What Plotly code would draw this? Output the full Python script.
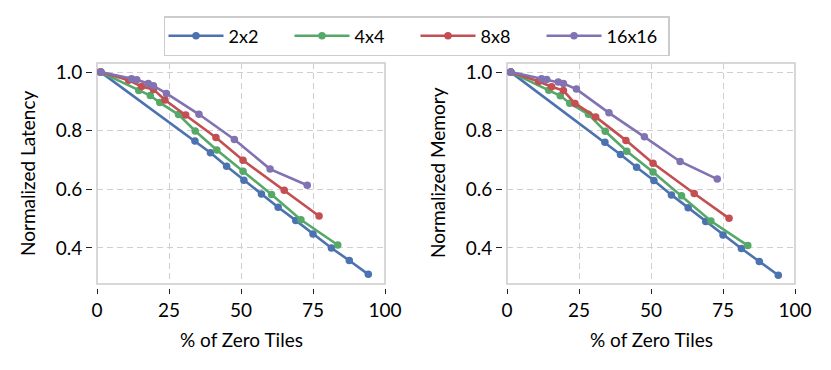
import plotly.graph_objects as go

# % of zero tiles for each tile size (shared by both panels)
x_2x2 = [1.3, 34.0, 39.4, 45.0, 51.0, 57.1, 62.9, 69.0, 75.0, 81.4, 87.6, 94.2]
x_4x4 = [1.3, 14.5, 18.5, 21.8, 28.3, 34.1, 41.6, 50.7, 60.6, 70.8, 83.6]
x_8x8 = [1.3, 11.0, 15.5, 19.6, 23.6, 30.8, 41.3, 50.7, 65.0, 77.1]
x_16x16 = [1.3, 12.0, 13.8, 17.8, 19.6, 24.1, 35.4, 47.7, 60.1, 73.0]

# normalized latency
lat_2x2 = [1.0, 0.765, 0.725, 0.679, 0.631, 0.584, 0.539, 0.494, 0.448, 0.400, 0.357, 0.310]
lat_4x4 = [1.0, 0.937, 0.920, 0.896, 0.855, 0.799, 0.734, 0.662, 0.582, 0.496, 0.410]
lat_8x8 = [1.0, 0.972, 0.951, 0.941, 0.905, 0.854, 0.777, 0.699, 0.597, 0.509]
lat_16x16 = [1.0, 0.977, 0.974, 0.961, 0.953, 0.927, 0.856, 0.770, 0.669, 0.614]

# normalized memory
mem_2x2 = [1.0, 0.761, 0.719, 0.675, 0.630, 0.581, 0.537, 0.490, 0.444, 0.398, 0.354, 0.307]
mem_4x4 = [1.0, 0.938, 0.919, 0.894, 0.856, 0.798, 0.730, 0.659, 0.578, 0.492, 0.408]
mem_8x8 = [1.0, 0.968, 0.950, 0.937, 0.893, 0.847, 0.767, 0.689, 0.586, 0.501]
mem_16x16 = [1.0, 0.977, 0.975, 0.966, 0.961, 0.942, 0.861, 0.779, 0.695, 0.635]

labels = ['2x2', '4x4', '8x8', '16x16']
colors = ['#4C72B0', '#55A868', '#C44E52', '#8172B2']
xs = [x_2x2, x_4x4, x_8x8, x_16x16]
lats = [lat_2x2, lat_4x4, lat_8x8, lat_16x16]
mems = [mem_2x2, mem_4x4, mem_8x8, mem_16x16]

# the page body has an 8px margin, so the figure is drawn 8px smaller
# and all layout positions below are page pixels minus that offset
OFF = 8
W, H = 831 - OFF, 370 - OFF
FONT = 'Lato'
TXT = '#000000'

fig = go.Figure()
for name, color, x, lat, mem in zip(labels, colors, xs, lats, mems):
    fig.add_trace(go.Scatter(
        x=x, y=lat, name=name, mode='lines+markers',
        line=dict(color=color, width=2.6),
        marker=dict(color=color, size=7.5),
        xaxis='x', yaxis='y', legendgroup=name))
    fig.add_trace(go.Scatter(
        x=x, y=mem, name=name, mode='lines+markers',
        line=dict(color=color, width=2.6),
        marker=dict(color=color, size=7.5),
        xaxis='x2', yaxis='y2', legendgroup=name, showlegend=False))

# plot area in page pixels; ticks sit a few px off the frame
pl, pr, pt, pb = 92, 795, 63, 288
ml, mt = pl - OFF, pt - OFF
mr, mb = W - (pr - OFF), H - (pb - OFF)
pw = pr - pl
ph = pb - pt


def px_x(p):
    return (p - pl) / pw


def px_y(p):
    return (pb - p) / ph


left_dom = [px_x(97), px_x(385)]
right_dom = [px_x(507), px_x(795)]
y_dom = [px_y(284), 1]

common_x = dict(
    range=[0, 100], tickvals=[0, 25, 50, 75, 100],
    showgrid=True, gridcolor='#cfcfcf', griddash='6px,4px', gridwidth=1.2,
    showline=False, zeroline=False, automargin=False,
    ticks='outside', ticklen=5, tickwidth=1.4, tickcolor='#222222',
    tickfont=dict(size=19, color=TXT),
    anchor='free', position=0,
)
common_y = dict(
    range=[0.277, 1.031], tickvals=[0.4, 0.6, 0.8, 1.0], tickformat='.1f',
    showgrid=True, gridcolor='#cfcfcf', griddash='6px,4px', gridwidth=1.2,
    showline=False, zeroline=False, automargin=False,
    ticks='outside', ticklen=6, tickwidth=1.4, tickcolor='#222222',
    tickfont=dict(size=19, color=TXT),
    domain=y_dom, anchor='free',
)

title_font = dict(family=FONT, size=19, color=TXT)
annotations = [
    dict(text='% of Zero Tiles', x=px_x(241), y=px_y(339), xref='paper', yref='paper',
         showarrow=False, xanchor='center', yanchor='middle', font=title_font),
    dict(text='% of Zero Tiles', x=px_x(651), y=px_y(339), xref='paper', yref='paper',
         showarrow=False, xanchor='center', yanchor='middle', font=title_font),
    dict(text='Normalized Latency', x=px_x(27), y=px_y(173), xref='paper', yref='paper',
         showarrow=False, xanchor='center', yanchor='middle', textangle=-90, font=title_font),
    dict(text='Normalized Memory', x=px_x(437), y=px_y(173), xref='paper', yref='paper',
         showarrow=False, xanchor='center', yanchor='middle', textangle=-90, font=title_font),
]

fig.update_layout(
    width=W, height=H,
    margin=dict(l=ml, r=mr, t=mt, b=mb, autoexpand=False),
    paper_bgcolor='white', plot_bgcolor='white',
    font=dict(family=FONT, color=TXT),
    xaxis=dict(common_x, domain=left_dom),
    yaxis=dict(common_y, position=0),
    xaxis2=dict(common_x, domain=right_dom),
    yaxis2=dict(common_y, position=px_x(502)),
    legend=dict(
        orientation='h', x=px_x(416.5), xanchor='center', y=px_y(16), yanchor='top',
        bordercolor='#cccccc', borderwidth=1.5, bgcolor='white',
        font=dict(size=18, color=TXT),
        itemwidth=55, entrywidth=56, entrywidthmode='pixels',
    ),
    annotations=annotations,
    shapes=[
        dict(type='rect', xref='x domain', yref='y domain', x0=0, x1=1, y0=0, y1=1,
             line=dict(color='#cccccc', width=1.5), layer='below'),
        dict(type='rect', xref='x2 domain', yref='y2 domain', x0=0, x1=1, y0=0, y1=1,
             line=dict(color='#cccccc', width=1.5), layer='below'),
    ],
)

fig.write_html('out.html')
